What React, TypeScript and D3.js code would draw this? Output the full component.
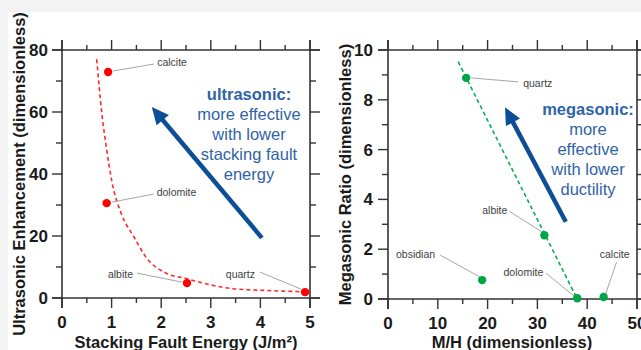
import * as d3 from 'd3';
import { useEffect, useRef } from 'react';

const WIDTH = 641;
const HEIGHT = 350;
const FONT = '"Liberation Sans", Arial, sans-serif';
const AXIS_COLOR = '#333333';
const ARROW_COLOR = '#0d4f96';
const NOTE_COLOR = '#2f63a6';
const LABEL_COLOR = '#404040';
const LEADER_COLOR = '#a6a6a6';

// left panel: stacking fault energy vs ultrasonic enhancement
const sfeMinerals = ['calcite', 'dolomite', 'albite', 'quartz'];
const sfeValues = [0.93, 0.9, 2.52, 4.9];
const ultrasonicValues = [72.9, 30.6, 4.8, 1.9];
const sfeFitX = [0.7, 0.8, 0.9, 1.0, 1.2, 1.44, 1.7, 2.1, 2.5, 3.0, 3.45, 4.0, 4.5, 4.9];
const sfeFitY = [77, 60, 48, 38, 27, 20, 13, 8, 6.3, 4.2, 3.0, 2.5, 2.2, 2.0];
const sfeArrow = [[4.03, 19.4], [1.81, 61.6]];
const sfeMajorTicks = [0, 1, 2, 3, 4, 5];
const sfeMinorTicks = [0.5, 1.5, 2.5, 3.5, 4.5];
const ultrasonicMajorTicks = [0, 20, 40, 60, 80];
const ultrasonicMinorTicks = [10, 30, 50, 70];
const ultrasonicNote = ['more effective', 'with lower', 'stacking fault', 'energy'];

// right panel: M/H vs megasonic ratio
const mhMinerals = ['quartz', 'albite', 'obsidian', 'dolomite', 'calcite'];
const mhValues = [15.7, 31.4, 18.9, 38.0, 43.3];
const megasonicValues = [8.88, 2.56, 0.76, 0.03, 0.08];
const mhFitX = [14.1, 38.0];
const mhFitY = [9.53, 0];
const mhArrow = [[35.7, 3.1], [23.5, 7.7]];
const mhMajorTicks = [0, 10, 20, 30, 40, 50];
const mhMinorTicks = [5, 15, 25, 35, 45];
const megasonicMajorTicks = [0, 2, 4, 6, 8, 10];
const megasonicMinorTicks = [1, 3, 5, 7, 9];
const megasonicNote = ['more', 'effective', 'with lower', 'ductility'];

// label placement in px relative to the dot: text anchor, leader start/end
const sfeLabelLayout = {
  calcite: { dx: 49, dy: -10, anchor: 'start', line: [5, -1, 46, -8] },
  dolomite: { dx: 50, dy: -11, anchor: 'start', line: [5, -1, 47, -9] },
  albite: { dx: -54, dy: -9, anchor: 'end', line: [-5, -1, -50, -10] },
  quartz: { dx: -50, dy: -18, anchor: 'end', line: [-4, -3, -45, -20] },
};
const mhLabelLayout = {
  quartz: { dx: 57, dy: 5, anchor: 'start', line: [5, 0, 52, 4] },
  albite: { dx: -37, dy: -25, anchor: 'end', line: [-2, -3, -35, -24] },
  obsidian: { dx: -47, dy: -26, anchor: 'end', line: [-2, -3, -42, -25] },
  dolomite: { dx: -34, dy: -26, anchor: 'end', line: [-3, -2, -31, -25] },
  calcite: { dx: 11, dy: -43, anchor: 'middle', line: [2, -3, 13, -35] },
};

function drawPanel(svg, cfg) {
  const { x, y } = cfg;
  const [x0, x1] = x.range();
  const [yb, yt] = y.range();
  const g = svg.append('g');
  const ext = 10;

  // frame lines, extended past the corners
  const frame = [
    [x0 - ext, yb, x1 + ext, yb],
    [x0 - ext, yt, x1 + ext, yt],
    [x0, yb + ext, x0, yt - ext],
    [x1, yb + ext, x1, yt - ext],
  ];
  g.selectAll('line.frame')
    .data(frame)
    .enter()
    .append('line')
    .attr('class', 'frame')
    .attr('x1', (d) => d[0])
    .attr('y1', (d) => d[1])
    .attr('x2', (d) => d[2])
    .attr('y2', (d) => d[3])
    .attr('stroke', AXIS_COLOR)
    .attr('stroke-width', 1.6);

  const tickSets = [
    { vals: cfg.xMajor, len: 10, axis: 'x' },
    { vals: cfg.xMinor, len: 5, axis: 'x' },
    { vals: cfg.yMajor, len: 10, axis: 'y' },
    { vals: cfg.yMinor, len: 6, axis: 'y' },
  ];
  tickSets.forEach((set) => {
    set.vals.forEach((v) => {
      if (set.axis === 'x') {
        const px = x(v);
        g.append('line').attr('x1', px).attr('x2', px).attr('y1', yb).attr('y2', yb + set.len)
          .attr('stroke', AXIS_COLOR).attr('stroke-width', 1.4);
        g.append('line').attr('x1', px).attr('x2', px).attr('y1', yt).attr('y2', yt - set.len)
          .attr('stroke', AXIS_COLOR).attr('stroke-width', 1.4);
      } else {
        const py = y(v);
        g.append('line').attr('x1', x0).attr('x2', x0 - set.len).attr('y1', py).attr('y2', py)
          .attr('stroke', AXIS_COLOR).attr('stroke-width', 1.4);
        g.append('line').attr('x1', x1).attr('x2', x1 + set.len).attr('y1', py).attr('y2', py)
          .attr('stroke', AXIS_COLOR).attr('stroke-width', 1.4);
      }
    });
  });

  g.selectAll('text.xtick')
    .data(cfg.xMajor)
    .enter()
    .append('text')
    .attr('class', 'xtick')
    .attr('x', (d) => x(d))
    .attr('y', yb + 30)
    .attr('text-anchor', 'middle')
    .style('font-family', FONT)
    .style('font-size', '17px')
    .style('font-weight', 700)
    .style('fill', '#1a1a1a')
    .text((d) => d);

  g.selectAll('text.ytick')
    .data(cfg.yMajor)
    .enter()
    .append('text')
    .attr('class', 'ytick')
    .attr('x', x0 - cfg.yLabelGap)
    .attr('y', (d) => y(d) + 6)
    .attr('text-anchor', 'end')
    .style('font-family', FONT)
    .style('font-size', '17px')
    .style('font-weight', 700)
    .style('fill', '#1a1a1a')
    .text((d) => d);

  g.append('text')
    .attr('x', cfg.xTitleX)
    .attr('y', 348)
    .attr('text-anchor', 'middle')
    .style('font-family', FONT)
    .style('font-size', '16.5px')
    .style('font-weight', 700)
    .style('fill', '#1a1a1a')
    .text(cfg.xTitle);

  g.append('text')
    .attr('transform', `translate(${cfg.yTitleX},${(yb + yt) / 2}) rotate(-90)`)
    .attr('text-anchor', 'middle')
    .attr('dy', '0.35em')
    .style('font-family', FONT)
    .style('font-size', '16.5px')
    .style('font-weight', 700)
    .style('fill', '#1a1a1a')
    .text(cfg.yTitle);

  // fit line
  const line = d3.line().x((d) => x(d[0])).y((d) => y(d[1])).curve(d3.curveMonotoneX);
  g.append('path')
    .datum(cfg.fitX.map((v, i) => [v, cfg.fitY[i]]))
    .attr('d', line)
    .attr('fill', 'none')
    .attr('stroke', cfg.fitColor)
    .attr('stroke-width', 1.6)
    .attr('stroke-dasharray', '4,3');

  // arrow
  const [tail, tip] = cfg.arrow;
  const tx = x(tail[0]);
  const ty = y(tail[1]);
  const hx = x(tip[0]);
  const hy = y(tip[1]);
  const ang = Math.atan2(hy - ty, hx - tx);
  const headLen = 17;
  const headHalf = 8;
  const bx = hx - headLen * Math.cos(ang);
  const by = hy - headLen * Math.sin(ang);
  g.append('line')
    .attr('x1', tx).attr('y1', ty).attr('x2', bx + 3 * Math.cos(ang)).attr('y2', by + 3 * Math.sin(ang))
    .attr('stroke', ARROW_COLOR)
    .attr('stroke-width', 4.5);
  g.append('path')
    .attr('d', `M${hx},${hy}L${bx + headHalf * Math.sin(ang)},${by - headHalf * Math.cos(ang)}`
      + `L${bx - headHalf * Math.sin(ang)},${by + headHalf * Math.cos(ang)}Z`)
    .attr('fill', ARROW_COLOR);

  // note text
  const note = g.append('text')
    .attr('text-anchor', 'middle')
    .style('font-family', FONT)
    .style('font-size', '16.5px')
    .style('fill', NOTE_COLOR);
  note.append('tspan')
    .attr('x', cfg.noteX)
    .attr('y', cfg.noteY)
    .style('font-weight', 700)
    .text(cfg.noteTitle);
  cfg.noteLines.forEach((t, i) => {
    note.append('tspan').attr('x', cfg.noteX).attr('y', cfg.noteY + 20 * (i + 1)).text(t);
  });

  // points, leaders and labels
  const pts = cfg.names.map((name, i) => ({ name, px: x(cfg.xs[i]), py: y(cfg.ys[i]) }));
  pts.forEach((p) => {
    const lay = cfg.layout[p.name];
    g.append('line')
      .attr('x1', p.px + lay.line[0])
      .attr('y1', p.py + lay.line[1])
      .attr('x2', p.px + lay.line[2])
      .attr('y2', p.py + lay.line[3])
      .attr('stroke', LEADER_COLOR)
      .attr('stroke-width', 1);
    g.append('text')
      .attr('x', p.px + lay.dx)
      .attr('y', p.py + lay.dy + 4)
      .attr('text-anchor', lay.anchor)
      .style('font-family', FONT)
      .style('font-size', '10.5px')
      .style('fill', LABEL_COLOR)
      .text(p.name);
  });
  g.selectAll('circle')
    .data(pts)
    .enter()
    .append('circle')
    .attr('cx', (d) => d.px)
    .attr('cy', (d) => d.py)
    .attr('r', 4.2)
    .attr('fill', cfg.dotColor);
}

export default function App() {
  const ref = useRef(null);

  useEffect(() => {
    const svg = d3.select(ref.current);
    svg.selectAll('*').remove();

    svg.append('rect').attr('width', WIDTH).attr('height', HEIGHT).attr('fill', '#f3f3f3');
    svg.append('rect').attr('x', 8).attr('y', 12).attr('width', WIDTH - 8).attr('height', HEIGHT - 12)
      .attr('fill', '#ffffff');

    drawPanel(svg, {
      x: d3.scaleLinear().domain([0, 5]).range([62, 310]),
      y: d3.scaleLinear().domain([0, 80]).range([298, 50]),
      xMajor: sfeMajorTicks,
      xMinor: sfeMinorTicks,
      yMajor: ultrasonicMajorTicks,
      yMinor: ultrasonicMinorTicks,
      yLabelGap: 14,
      xTitle: 'Stacking Fault Energy (J/m²)',
      xTitleX: 186,
      yTitle: 'Ultrasonic Enhancement (dimensionless)',
      yTitleX: 19,
      fitX: sfeFitX,
      fitY: sfeFitY,
      fitColor: '#ff2a2a',
      arrow: sfeArrow,
      noteTitle: 'ultrasonic:',
      noteLines: ultrasonicNote,
      noteX: 249,
      noteY: 100,
      names: sfeMinerals,
      xs: sfeValues,
      ys: ultrasonicValues,
      layout: sfeLabelLayout,
      dotColor: '#ff0000',
    });

    drawPanel(svg, {
      x: d3.scaleLinear().domain([0, 50]).range([388, 637]),
      y: d3.scaleLinear().domain([0, 10]).range([299, 50]),
      xMajor: mhMajorTicks,
      xMinor: mhMinorTicks,
      yMajor: megasonicMajorTicks,
      yMinor: megasonicMinorTicks,
      yLabelGap: 15,
      xTitle: 'M/H (dimensionless)',
      xTitleX: 512,
      yTitle: 'Megasonic Ratio (dimensionless)',
      yTitleX: 345,
      fitX: mhFitX,
      fitY: mhFitY,
      fitColor: '#00b050',
      arrow: mhArrow,
      noteTitle: 'megasonic:',
      noteLines: megasonicNote,
      noteX: 588,
      noteY: 115,
      names: mhMinerals,
      xs: mhValues,
      ys: megasonicValues,
      layout: mhLabelLayout,
      dotColor: '#00a645',
    });
  }, []);

  return (
    <svg
      ref={ref}
      width={WIDTH}
      height={HEIGHT}
      style={{ position: 'absolute', left: 0, top: 0 }}
      role="img"
      aria-label="Ultrasonic and megasonic effectiveness charts"
    />
  );
}
